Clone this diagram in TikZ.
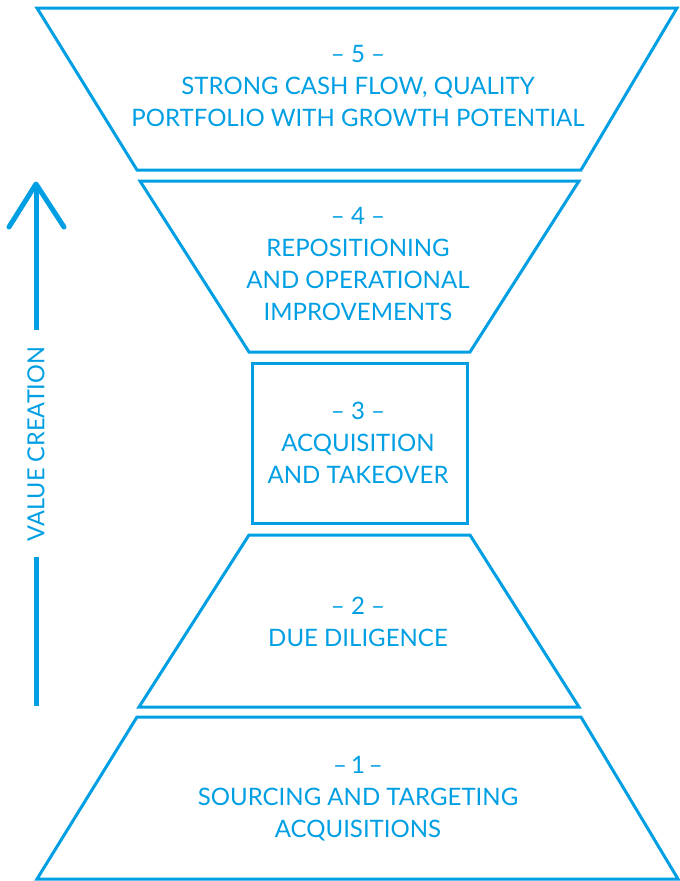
\documentclass[tikz,border=0pt]{standalone}
\usepackage{fontspec}
\setmainfont{Lato}
\definecolor{vcblue}{RGB}{0,159,227}
\begin{document}
\begin{tikzpicture}[x=1pt,y=-1pt,
  shapeline/.style={draw=vcblue,line width=3pt,line join=miter},
  lbl/.style={text=vcblue,align=center,inner sep=0pt,font=\fontsize{24}{32}\selectfont},
  vlbl/.style={text=vcblue,inner sep=0pt,rotate=90,font=\fontsize{23.5}{26}\selectfont},
  arrowline/.style={draw=vcblue,line width=5pt,line cap=round,line join=round}]
\useasboundingbox (0,0) rectangle (680,881);
% stage 5
\coordinate (s5a) at (37,8);
\coordinate (s5b) at (677,8);
\coordinate (s5c) at (581,170);
\coordinate (s5d) at (137,170);
\draw[shapeline] (s5a) -- (s5b) -- (s5c) -- (s5d) -- cycle;
\node[lbl] (t5) at (358,86) {– 5 –\\STRONG CASH FLOW, QUALITY\\PORTFOLIO WITH GROWTH POTENTIAL};
% stage 4
\coordinate (s4a) at (140,181);
\coordinate (s4b) at (579,181);
\coordinate (s4c) at (470,352);
\coordinate (s4d) at (249,352);
\draw[shapeline] (s4a) -- (s4b) -- (s4c) -- (s4d) -- cycle;
\node[lbl] (t4) at (358,264) {– 4 –\\REPOSITIONING\\AND OPERATIONAL\\IMPROVEMENTS};
% stage 3
\coordinate (s3a) at (252,363);
\coordinate (s3c) at (467,523);
\draw[shapeline] (s3a) rectangle (s3c);
\node[lbl] (t3) at (358,443) {– 3 –\\ACQUISITION\\AND TAKEOVER};
% stage 2
\coordinate (s2a) at (249,535);
\coordinate (s2b) at (470,535);
\coordinate (s2c) at (579,707);
\coordinate (s2d) at (139,707);
\draw[shapeline] (s2a) -- (s2b) -- (s2c) -- (s2d) -- cycle;
\node[lbl] (t2) at (358,622) {– 2 –\\DUE DILIGENCE};
% stage 1
\coordinate (s1a) at (137,717);
\coordinate (s1b) at (581,717);
\coordinate (s1c) at (678,879);
\coordinate (s1d) at (37,879);
\draw[shapeline] (s1a) -- (s1b) -- (s1c) -- (s1d) -- cycle;
\node[lbl] (t1) at (358,799) {–\,1\,–\\SOURCING AND TARGETING\\ACQUISITIONS};
% value creation arrow
\node[vlbl] (vc) at (36,444) {VALUE CREATION};
\coordinate (abot) at (36,706);
\coordinate (bgap) at (36,557);
\coordinate (tgap) at (36,330);
\coordinate (atop) at (36,184);
\coordinate (wl) at (9,227);
\coordinate (wr) at (64,227);
\draw[arrowline,line cap=butt] (abot) -- (bgap);
\draw[arrowline,line cap=butt] (tgap) -- (atop);
\draw[arrowline] (wl) -- (atop) -- (wr);
\end{tikzpicture}
\end{document}
